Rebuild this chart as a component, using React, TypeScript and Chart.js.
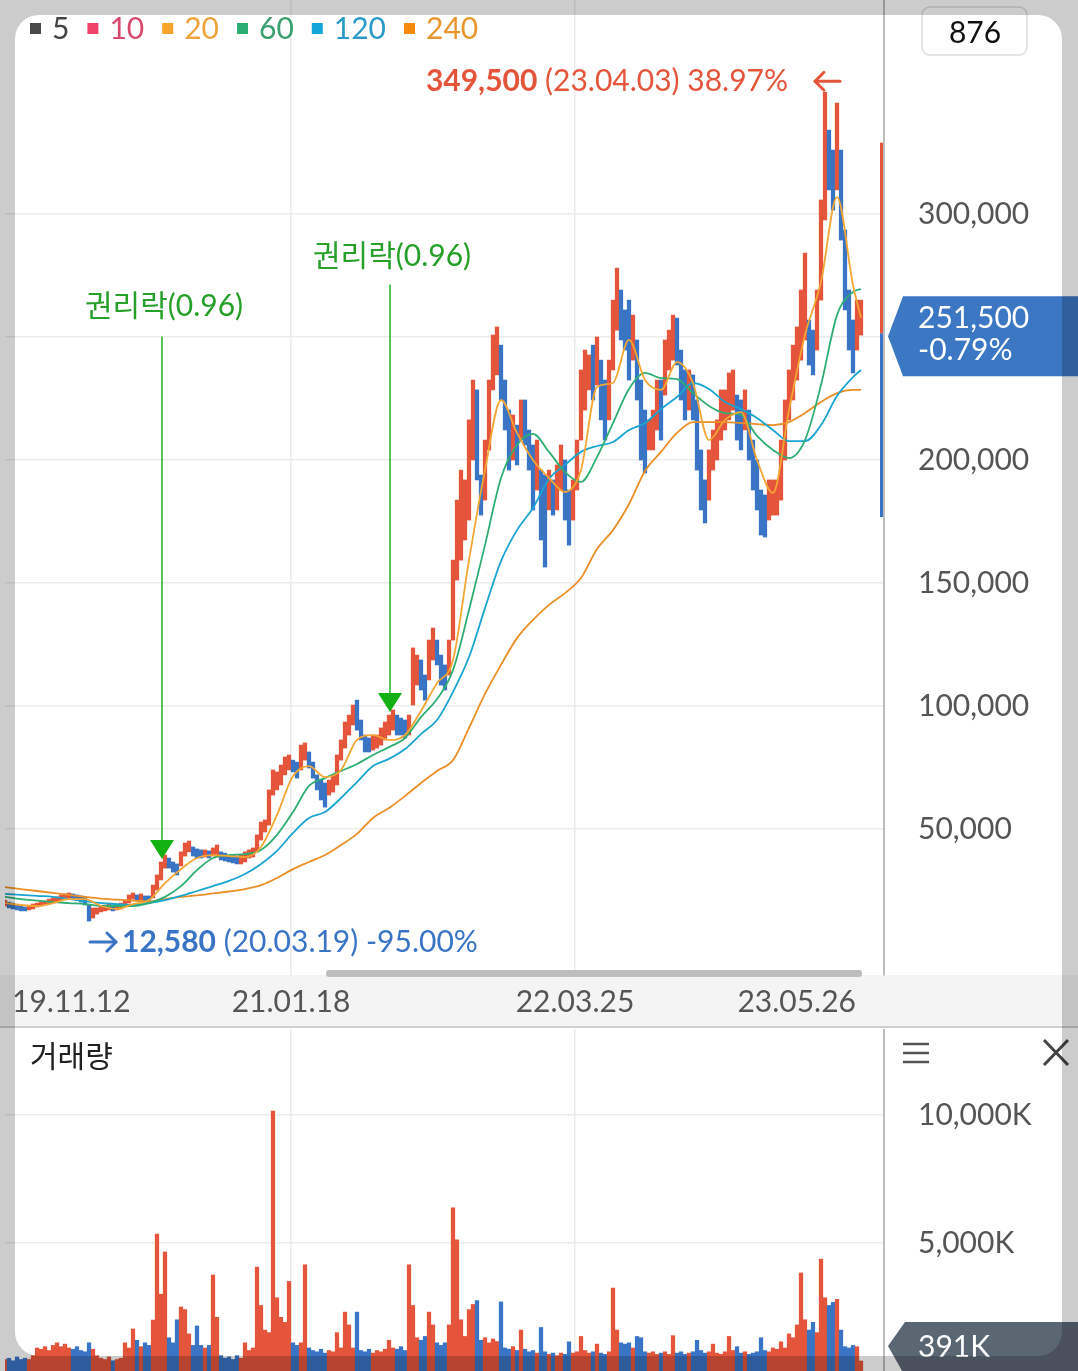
import React, { useEffect, useRef } from 'react';
import { Chart, registerables } from 'chart.js';

Chart.register(...registerables);

// ---------------- data (samples every 4 trading days, 19.11.12 → 23.05.26) ----------------
const highs = [
  21100, 20300, 19900, 19100, 18700, 18300, 18700, 19500, 19900, 20300,
  20700, 21500, 22000, 22400, 23200, 23600, 24000, 23600, 23200, 22800,
  22400, 19100, 17900, 17900, 18700, 19100, 19500, 19100, 19500, 19900,
  21100, 23200, 24000, 23200, 23600, 22800, 22800, 27200, 31300, 36600,
  39400, 38200, 36600, 35800, 40700, 44300, 45100, 42700, 41900, 41500,
  41500, 41100, 42300, 43500, 40700, 40200, 39400, 39400, 39000, 39400,
  40700, 41500, 42300, 47600, 52800, 53700, 65900, 74000, 73200, 76000,
  79300, 80100, 78000, 77200, 84100, 85000, 81300, 77200, 72000, 69900,
  68700, 69900, 72000, 80100, 86200, 93500, 96300, 100400, 102400, 94300,
  88200, 87000, 88200, 88200, 91100, 93500, 96300, 98400, 96300, 95100,
  94300, 96300, 123600, 120700, 118700, 112600, 126800, 131700, 126800, 120700,
  116700, 126800, 159300, 183700, 195900, 191900, 216300, 232500, 228500, 193900,
  208100, 232500, 250800, 254100, 246700, 232500, 220300, 218300, 214200, 224400,
  224400, 212200, 206100, 208100, 195900, 193900, 195900, 191900, 198000, 206100,
  200000, 187800, 191900, 208100, 236600, 244700, 242700, 246700, 250000, 240600,
  232500, 240600, 265000, 278000, 269100, 261000, 265000, 258900, 248800, 232500,
  220300, 216300, 220300, 232500, 232500, 248800, 252800, 258900, 257700, 244700,
  236600, 236600, 234600, 224400, 204100, 191900, 204100, 212200, 216300, 228500,
  228500, 235400, 236600, 226400, 224400, 228500, 220300, 208100, 200000, 187800,
  185800, 191900, 191900, 191900, 208100, 224400, 236600, 246700, 254100, 269100,
  284100, 256900, 252800, 269100, 305700, 349500, 334100, 326000, 345100, 326000,
  293500, 269100, 256900, 265000, 265000,
];
const lows = [
  18700, 17900, 17500, 17100, 16700, 16700, 17100, 17500, 18300, 18700,
  19100, 19500, 19900, 20300, 21100, 21500, 22000, 21500, 21100, 20300,
  19100, 12580, 13800, 15400, 16300, 16700, 17100, 16700, 17100, 17500,
  18300, 19900, 21500, 21100, 21100, 20300, 19900, 22000, 25200, 29300,
  34100, 34100, 32500, 31300, 35000, 39000, 40700, 39000, 38200, 38200,
  38600, 38200, 39000, 38600, 37400, 37000, 36600, 36200, 35800, 35800,
  36600, 38200, 38600, 40700, 45500, 48800, 51600, 63800, 65900, 67900,
  72000, 74000, 73200, 70700, 74000, 78000, 74800, 70700, 65900, 61800,
  58900, 63800, 65000, 67900, 78000, 82900, 88200, 92300, 90200, 86200,
  81300, 81300, 82100, 82900, 84100, 86200, 88200, 90200, 88200, 88200,
  87000, 88200, 100400, 108500, 106500, 102400, 110600, 118700, 116700, 108500,
  106500, 112600, 126800, 151200, 159300, 167500, 175600, 200000, 191900, 177600,
  183700, 204100, 228500, 234600, 224400, 212200, 195900, 200000, 198000, 208100,
  206100, 195900, 179700, 187800, 167500, 156500, 179700, 177600, 179700, 187800,
  175600, 165400, 175600, 187800, 208100, 220300, 228500, 224400, 230500, 216300,
  208100, 216300, 236600, 252800, 248800, 244700, 232500, 240600, 224400, 200000,
  194700, 204100, 204100, 212200, 208100, 226400, 236600, 240600, 238600, 224400,
  216300, 220300, 216300, 195900, 179700, 174400, 183700, 195900, 200000, 208100,
  212200, 216300, 220300, 208100, 204100, 212200, 200000, 187800, 179700, 169500,
  168700, 175600, 177600, 177600, 183700, 200000, 216300, 224400, 232500, 240600,
  248800, 238600, 234600, 244700, 265000, 297600, 309800, 301600, 309800, 289400,
  261000, 244700, 235400, 244700, 250800,
];
// volume in thousands of shares (max of each 4-day sample)
const volumesK = [
  450, 500, 400, 550, 450, 500, 450, 600, 900, 850,
  950, 800, 1000, 1100, 950, 1050, 900, 850, 950, 800,
  750, 1100, 850, 600, 500, 450, 550, 400, 450, 500,
  1100, 900, 1640, 1200, 950, 1100, 1000, 1990, 5350, 3000,
  4650, 1300, 1100, 2000, 2500, 2400, 1450, 1000, 1760, 1000,
  900, 1000, 3750, 2100, 600, 500, 550, 450, 600, 500,
  1100, 800, 900, 4060, 2560, 1600, 1500, 10150, 2860, 2100,
  1900, 3500, 1100, 1000, 1100, 4150, 900, 800, 750, 850,
  700, 800, 750, 1500, 900, 2300, 1800, 900, 2300, 800,
  750, 850, 700, 800, 750, 850, 1200, 900, 850, 950,
  800, 4150, 2560, 1300, 1200, 1350, 2300, 1800, 1100, 1000,
  1100, 1800, 6370, 5120, 2000, 1350, 2400, 2600, 2750, 1200,
  1300, 1100, 1250, 1150, 2700, 900, 850, 950, 800, 1600,
  850, 750, 800, 700, 1700, 750, 650, 700, 600, 700,
  650, 1140, 700, 750, 1350, 800, 700, 750, 1050, 700,
  650, 750, 3240, 1600, 1100, 1050, 1100, 900, 1350, 1300,
  750, 700, 750, 650, 700, 750, 650, 1380, 700, 750,
  650, 700, 750, 1200, 800, 700, 750, 1050, 700, 650,
  750, 1350, 800, 950, 700, 750, 650, 700, 750, 1300,
  800, 750, 900, 850, 1140, 900, 1450, 1300, 1800, 3830,
  2000, 1600, 1900, 1500, 4370, 2860, 2560, 2680, 2800, 1600,
  950, 900, 1000, 950, 391,
];
// moving averages read every 4 samples (last point = last sample)
const ma20 = [
  19900, 19100, 18700, 19900, 21500, 21500, 18700, 17500, 19500, 21100,
  28000, 33700, 38200, 39400, 39000, 38600, 42700, 55700, 71500, 75600,
  71100, 74000, 86200, 88200, 86200, 88200, 98000, 109300, 118700, 159300,
  195900, 224400, 211000, 200000, 192700, 187000, 195900, 229700, 231300, 248800,
  232500, 228500, 239800, 231300, 208100, 216300, 219500, 200000, 186600, 220300,
  250800, 272400, 306900, 271100, 257700,
];
const ma60 = [
  22400, 21500, 20900, 20300, 19900, 19500, 18700, 18700, 18700, 19900,
  22400, 26800, 33300, 38200, 39400, 39800, 41500, 47600, 56900, 67500,
  70700, 73600, 76400, 80100, 83300, 87000, 95500, 102800, 114600, 139000,
  165400, 192700, 206100, 210600, 203300, 195100, 191100, 201200, 215000, 228900,
  235400, 233300, 232900, 227200, 222000, 219100, 218300, 209800, 204100, 200800,
  208100, 230500, 258900, 268300, 269500,
];
const ma120 = [
  23600, 23200, 22800, 22400, 21500, 20700, 19900, 19500, 19100, 19900,
  21100, 22800, 24800, 26800, 28900, 31700, 35800, 41100, 48400, 54500,
  56900, 62600, 69100, 75600, 78500, 82500, 88600, 94300, 105700, 119900,
  139800, 158900, 171500, 180500, 192300, 198000, 203300, 205700, 207300, 212200,
  215000, 220700, 225600, 231300, 228900, 223600, 220700, 217100, 212200, 207700,
  207700, 214200, 226000, 233700, 236600,
];
const ma240 = [
  26400, 25600, 24800, 24000, 23200, 22400, 21700, 21300, 20900, 20500,
  21500, 22400, 23000, 23800, 24600, 25600, 27200, 30100, 33700, 36600,
  39400, 43500, 48000, 54500, 58500, 63400, 68700, 73600, 78000, 91100,
  104900, 116700, 127600, 135000, 141100, 145900, 152000, 163800, 171500, 182100,
  195500, 203300, 211000, 215400, 215400, 215400, 215000, 214600, 214200, 215400,
  219100, 223600, 227200, 228500, 228500,
];
const MA_STEP = 4;

const xTickValues = [1.75, 71.5, 142.5, 212.75];
const xTickLabels = ['19.11.12', '21.01.18', '22.03.25', '23.05.26'];
const priceTicks = [0, 50000, 100000, 150000, 200000, 250000, 300000, 350000];
const priceTickLabelled = [50000, 100000, 150000, 200000, 300000];
const volumeTicks = [5000, 10000];

const legendItems: [string, string, string][] = [
  ['5', '#4a4a4a', '#444444'],
  ['10', '#f0436a', '#d84a6c'],
  ['20', '#f7a52a', '#eea43c'],
  ['60', '#2cae72', '#3a9f6f'],
  ['120', '#14a6d8', '#2a9bc9'],
  ['240', '#f88a10', '#e9962d'],
];

const LAST_CLOSE = 251500;
const LAST_CHANGE = '-0.79%';
const HIGH_DATE = '23.04.03';
const HIGH_PCT = '38.97%';
const LOW_DATE = '20.03.19';
const LOW_PCT = '-95.00%';
const LAST_VOLUME_K = 391;
const CANDLE_COUNT = 876;
const RANGE_TOP = 329000;
const RANGE_BOTTOM = 176800;
const rightsIndex = [39.25, 96.25];
const rightsText = '권리락(0.96)';

// ---------------- style ----------------
const FONT = "Lato, 'Noto Sans CJK KR', 'Noto Sans', sans-serif";
const RED = '#e4553b';
const BLUE = '#3a74c5';
const GREEN_TEXT = '#27a02a';
const GREEN = '#1eb01e';
const GRID = '#ececec';
const AXIS_TEXT = '#555555';
const X_MAX = 219.75;
const PRICE_MIN = -9350;
const PRICE_MAX = 387000;
const VOL_MAX = 13360;
const RIGHTS_LABEL_Y = [306, 256];
const RIGHTS_LINE_TOP = [337, 285];

function drawArrow(ctx: CanvasRenderingContext2D, x1: number, y: number, x2: number, color: string) {
  ctx.strokeStyle = color;
  ctx.lineWidth = 3;
  ctx.lineCap = 'round';
  ctx.lineJoin = 'round';
  ctx.beginPath();
  ctx.moveTo(x1, y);
  ctx.lineTo(x2, y);
  ctx.stroke();
  const d = x2 > x1 ? -1 : 1;
  ctx.beginPath();
  ctx.moveTo(x2 + d * 9, y - 9);
  ctx.lineTo(x2, y);
  ctx.lineTo(x2 + d * 9, y + 9);
  ctx.stroke();
}

function xScaleOptions(showLabels: boolean) {
  return {
    type: 'linear' as const,
    min: 0,
    max: X_MAX,
    offset: false,
    afterBuildTicks: (s: any) => {
      s.ticks = xTickValues.map((v) => ({ value: v }));
    },
    afterFit: (s: any) => {
      s.height = showLabels ? 52 : 0;
      s.paddingLeft = 0;
      s.paddingRight = 0;
      s.paddingTop = 0;
      s.paddingBottom = 0;
    },
    grid: {
      color: (c: any) => (c.index === 1 || c.index === 2 ? GRID : 'rgba(0,0,0,0)'),
      lineWidth: 1.5,
      drawTicks: false,
      offset: false,
    },
    border: { display: false },
    ticks: {
      display: showLabels,
      autoSkip: false,
      maxRotation: 0,
      align: 'inner' as const,
      padding: 9,
      font: { family: FONT, size: 30 },
      color: AXIS_TEXT,
      callback: (_v: any, i: number) => xTickLabels[i],
    },
  };
}

function yFit(s: any) {
  s.width = 194;
  s.paddingTop = 0;
  s.paddingBottom = 0;
  s.paddingLeft = 0;
  s.paddingRight = 0;
}

export default function App() {
  const priceRef = useRef<HTMLCanvasElement>(null);
  const volRef = useRef<HTMLCanvasElement>(null);

  useEffect(() => {
    document.body.style.margin = '0';
    const n = highs.length;
    const mids = highs.map((h, i) => (h + lows[i]) / 2);
    const colors = mids.map((m, i) => (i === 0 || m >= mids[i - 1] ? RED : BLUE));
    const priceBars = highs.map((h, i) => ({ x: i, y: [lows[i], h] }));
    const volBars = volumesK.map((v, i) => ({ x: i, y: v }));
    const maPts = (arr: number[]) =>
      arr.map((v, k) => ({ x: k === arr.length - 1 ? n - 1 : k * MA_STEP, y: v }));
    const lineDs = (arr: number[], color: string, order: number) => ({
      type: 'line' as const,
      data: maPts(arr),
      borderColor: color,
      borderWidth: 1.8,
      pointRadius: 0,
      fill: false,
      tension: 0.4,
      cubicInterpolationMode: 'monotone' as const,
      order,
    });

    const pricePlugin = {
      id: 'priceDecor',
      afterDraw(chart: any) {
        const ctx: CanvasRenderingContext2D = chart.ctx;
        const xs = chart.scales.x;
        const ys = chart.scales.y;
        const area = chart.chartArea;
        ctx.save();

        // price range bar at the right edge
        const yc = ys.getPixelForValue(LAST_CLOSE);
        const yTop = ys.getPixelForValue(RANGE_TOP);
        const yBot = ys.getPixelForValue(RANGE_BOTTOM);
        ctx.fillStyle = RED;
        ctx.fillRect(area.right - 4, yTop, 3, yc - yTop);
        ctx.fillStyle = BLUE;
        ctx.fillRect(area.right - 4, yc, 3, yBot - yc);

        // legend
        ctx.textBaseline = 'middle';
        ctx.textAlign = 'left';
        ctx.font = `30px ${FONT}`;
        let lx = 30;
        const ly = 28;
        legendItems.forEach(([label, sq, tc]) => {
          ctx.fillStyle = sq;
          ctx.fillRect(lx, ly - 5, 11, 11);
          lx += 22;
          ctx.fillStyle = tc;
          ctx.fillText(label, lx, ly + 1);
          lx += ctx.measureText(label).width + 18;
        });

        // highest annotation
        const maxH = Math.max(...highs);
        const hiIdx = highs.indexOf(maxH);
        const hx = xs.getPixelForValue(hiIdx);
        const hy = ys.getPixelForValue(maxH) - 11;
        const hiBold = maxH.toLocaleString('en-US');
        const hiRest = ` (${HIGH_DATE}) ${HIGH_PCT}`;
        ctx.font = `bold 30px ${FONT}`;
        const w1 = ctx.measureText(hiBold).width;
        ctx.font = `30px ${FONT}`;
        const w2 = ctx.measureText(hiRest).width;
        const hStart = hx - 37 - w1 - w2;
        ctx.fillStyle = RED;
        ctx.font = `bold 30px ${FONT}`;
        ctx.fillText(hiBold, hStart, hy);
        ctx.font = `30px ${FONT}`;
        ctx.fillText(hiRest, hStart + w1, hy);
        drawArrow(ctx, hx + 15, hy, hx - 10, RED);

        // lowest annotation
        const minL = Math.min(...lows);
        const loIdx = lows.indexOf(minL);
        const lxp = xs.getPixelForValue(loIdx);
        const lyp = ys.getPixelForValue(minL) + 21;
        drawArrow(ctx, lxp + 1, lyp, lxp + 27, BLUE);
        const loBold = minL.toLocaleString('en-US');
        ctx.fillStyle = BLUE;
        ctx.font = `bold 30px ${FONT}`;
        ctx.fillText(loBold, lxp + 33, lyp);
        const lw = ctx.measureText(loBold).width;
        ctx.font = `30px ${FONT}`;
        ctx.fillText(` (${LOW_DATE}) ${LOW_PCT}`, lxp + 33 + lw, lyp);

        // rights-off markers
        rightsIndex.forEach((idx, k) => {
          const mx = xs.getPixelForValue(idx);
          const tip = ys.getPixelForValue(highs[Math.round(idx)]) - 3;
          ctx.strokeStyle = GREEN;
          ctx.lineWidth = 1.5;
          ctx.beginPath();
          ctx.moveTo(mx, RIGHTS_LINE_TOP[k]);
          ctx.lineTo(mx, tip - 18);
          ctx.stroke();
          ctx.fillStyle = '#12b012';
          ctx.beginPath();
          ctx.moveTo(mx - 12, tip - 19);
          ctx.lineTo(mx + 12, tip - 19);
          ctx.lineTo(mx, tip);
          ctx.closePath();
          ctx.fill();
          ctx.fillStyle = GREEN_TEXT;
          ctx.textAlign = 'center';
          ctx.font = `30px ${FONT}`;
          ctx.fillText(rightsText, mx + 2, RIGHTS_LABEL_Y[k]);
          ctx.textAlign = 'left';
        });

        // last price tag
        const tc = yc + 3;
        ctx.fillStyle = '#3b77c3';
        ctx.beginPath();
        ctx.moveTo(area.right + 4, tc);
        ctx.lineTo(area.right + 19, tc - 40);
        ctx.lineTo(chart.width, tc - 40);
        ctx.lineTo(chart.width, tc + 40);
        ctx.lineTo(area.right + 19, tc + 40);
        ctx.closePath();
        ctx.fill();
        ctx.fillStyle = '#ffffff';
        ctx.font = `30px ${FONT}`;
        ctx.fillText(LAST_CLOSE.toLocaleString('en-US'), area.right + 34, tc - 18);
        ctx.fillText(LAST_CHANGE, area.right + 34, tc + 14);

        // candle count box
        ctx.fillStyle = '#ffffff';
        ctx.strokeStyle = '#dddddd';
        ctx.lineWidth = 1.5;
        ctx.beginPath();
        (ctx as any).roundRect(922, 7, 105, 48, 8);
        ctx.fill();
        ctx.stroke();
        ctx.fillStyle = '#111111';
        ctx.textAlign = 'center';
        ctx.fillText(String(CANDLE_COUNT), 975, 33);

        ctx.restore();
      },
    };

    const priceChart = new Chart(priceRef.current as HTMLCanvasElement, {
      type: 'bar',
      data: {
        datasets: [
          lineDs(ma240, '#e98f26', 4),
          lineDs(ma120, '#1aa4d0', 3),
          lineDs(ma60, '#2fae73', 2),
          lineDs(ma20, '#f3a633', 1),
          {
            type: 'bar' as const,
            data: priceBars as any,
            backgroundColor: colors,
            barThickness: 3.6,
            order: 10,
          },
        ] as any,
      },
      options: {
        responsive: false,
        animation: false,
        events: [],
        layout: { autoPadding: false, padding: { left: 5, right: 0, top: 0, bottom: 0 } },
        plugins: { legend: { display: false }, tooltip: { enabled: false } },
        scales: {
          x: xScaleOptions(true) as any,
          y: {
            position: 'right',
            min: PRICE_MIN,
            max: PRICE_MAX,
            afterBuildTicks: (s: any) => {
              s.ticks = priceTicks.map((v) => ({ value: v }));
            },
            afterFit: yFit,
            grid: {
              color: (c: any) =>
                c.tick && (c.tick.value === 0 || c.tick.value === 350000) ? 'rgba(0,0,0,0)' : GRID,
              lineWidth: 1.5,
              drawTicks: false,
            },
            border: { display: true, color: '#bdbdbd', width: 2 },
            ticks: {
              padding: 34,
              font: { family: FONT, size: 30 },
              color: AXIS_TEXT,
              callback: (v: any) => (priceTickLabelled.includes(v) ? Number(v).toLocaleString('en-US') : ''),
            },
          } as any,
        },
      } as any,
      plugins: [pricePlugin],
    });

    const volPlugin = {
      id: 'volDecor',
      afterDraw(chart: any) {
        const ctx: CanvasRenderingContext2D = chart.ctx;
        const ys = chart.scales.y;
        const area = chart.chartArea;
        ctx.save();
        ctx.textBaseline = 'middle';
        ctx.textAlign = 'left';
        ctx.font = `30px ${FONT}`;
        ctx.fillStyle = '#222222';
        ctx.fillText('거래량', 30, 28);

        // menu icon
        ctx.strokeStyle = '#555555';
        ctx.lineWidth = 2.5;
        [15, 24, 33].forEach((yy) => {
          ctx.beginPath();
          ctx.moveTo(903, yy);
          ctx.lineTo(929, yy);
          ctx.stroke();
        });
        // close icon
        ctx.strokeStyle = '#444444';
        ctx.lineWidth = 3;
        ctx.beginPath();
        ctx.moveTo(1044, 11);
        ctx.lineTo(1068, 36);
        ctx.moveTo(1068, 11);
        ctx.lineTo(1044, 36);
        ctx.stroke();

        // last volume tag
        const tc = Math.min(ys.getPixelForValue(LAST_VOLUME_K), area.bottom - 25);
        ctx.fillStyle = '#5b6673';
        ctx.beginPath();
        ctx.moveTo(area.right + 4, tc);
        ctx.lineTo(area.right + 21, tc - 24);
        ctx.lineTo(chart.width, tc - 24);
        ctx.lineTo(chart.width, tc + 30);
        ctx.lineTo(area.right + 21, tc + 30);
        ctx.closePath();
        ctx.fill();
        ctx.fillStyle = '#ffffff';
        ctx.fillText(`${LAST_VOLUME_K}K`, area.right + 34, tc + 1);
        ctx.restore();
      },
    };

    const volChart = new Chart(volRef.current as HTMLCanvasElement, {
      type: 'bar',
      data: {
        datasets: [
          {
            data: volBars as any,
            backgroundColor: colors,
            barThickness: 3.6,
          },
        ],
      },
      options: {
        responsive: false,
        animation: false,
        events: [],
        layout: { autoPadding: false, padding: { left: 5, right: 0, top: 0, bottom: 0 } },
        plugins: { legend: { display: false }, tooltip: { enabled: false } },
        scales: {
          x: xScaleOptions(false) as any,
          y: {
            position: 'right',
            min: 0,
            max: VOL_MAX,
            afterBuildTicks: (s: any) => {
              s.ticks = volumeTicks.map((v) => ({ value: v }));
            },
            afterFit: yFit,
            grid: { color: GRID, lineWidth: 1.5, drawTicks: false },
            border: { display: true, color: '#bdbdbd', width: 2 },
            ticks: {
              padding: 34,
              font: { family: FONT, size: 30 },
              color: AXIS_TEXT,
              callback: (v: any) => `${Number(v).toLocaleString('en-US')}K`,
            },
          } as any,
        },
      } as any,
      plugins: [volPlugin],
    });

    return () => {
      priceChart.destroy();
      volChart.destroy();
    };
  }, []);

  return (
    <div
      style={{
        position: 'absolute',
        left: 0,
        top: 0,
        width: 1078,
        height: 1371,
        overflow: 'hidden',
        background: '#ffffff',
      }}
    >
      <div style={{ position: 'absolute', left: 0, top: 975, width: 1078, height: 52, background: '#f4f4f4' }} />
      <div style={{ position: 'absolute', left: 0, top: 1026, width: 1078, height: 2, background: '#cfcfcf' }} />
      <canvas
        ref={priceRef}
        width={1078}
        height={1027}
        style={{ position: 'absolute', left: 0, top: 0, width: 1078, height: 1027 }}
      />
      <canvas
        ref={volRef}
        width={1078}
        height={342}
        style={{ position: 'absolute', left: 0, top: 1029, width: 1078, height: 342 }}
      />
      <div
        style={{
          position: 'absolute',
          left: 326,
          top: 970,
          width: 536,
          height: 7,
          borderRadius: 3,
          background: '#bdbdbd',
        }}
      />
      <div
        style={{
          position: 'absolute',
          left: 15,
          top: 15,
          width: 1047,
          height: 1341,
          borderRadius: 24,
          boxShadow: '0 0 0 3000px rgba(0,0,0,0.2)',
          pointerEvents: 'none',
        }}
      />
    </div>
  );
}
